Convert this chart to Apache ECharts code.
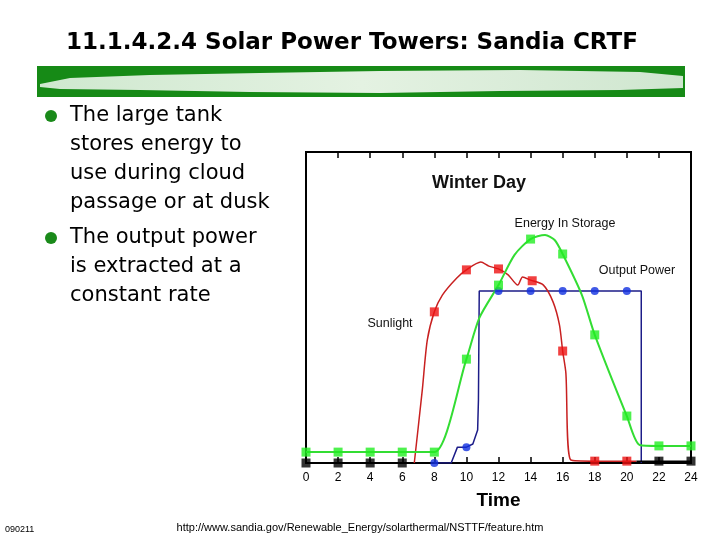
<!DOCTYPE html>
<html><head><meta charset="utf-8">
<script src="https://cdn.jsdelivr.net/npm/echarts@6/dist/echarts.min.js"></script>
<style>html,body{margin:0;padding:0;background:#fff}#c{width:720px;height:540px}</style>
</head><body><div id="c"></div>
<script>
// x = hour of day, y = relative level (0..100)
const hourTicks = [0,2,4,6,8,10,12,14,16,18,20,22,24];
const storageLine = [[0,3.5],[2,3.5],[4,3.5],[6,3.5],[8,3.5],[10,33.4],[10.8,46.6],[12,57.2],[13,66.9],[14,72.0],[14.9,73.3],[15.5,71.7],[16,67.2],[17.2,54.0],[18,41.2],[20,15.1],[20.8,5.8],[22,5.5],[24,5.5]];
const storageMarks = [[0,3.5],[2,3.5],[4,3.5],[6,3.5],[8,3.5],[10,33.4],[12,57.2],[14,72.0],[16,67.2],[18,41.2],[20,15.1],[22,5.5],[24,5.5]];
const sunLine = [[6.75,0],[7.25,23.5],[7.56,39.5],[8,48.6],[8.5,54.0],[9.4,59.5],[10,62.1],[10.9,64.6],[11.4,63.3],[12,62.4],[12.6,60.5],[13.2,57.2],[13.5,59.8],[14,58.8],[14.8,57.2],[15.4,51.8],[15.8,44.4],[16,36.0],[16.2,28.9],[16.5,1.0],[18,0.6],[20,0.6],[20.6,0.6]];
const sunMarks = [[8,48.6],[10,62.1],[12,62.4],[14.1,58.6],[16,36.0],[18,0.6],[20,0.6]];
const outputLine = [[8,0],[9.05,0],[9.44,5.1],[10,5.1],[10.4,6.1],[10.7,10.6],[10.75,20.3],[10.8,55.3],[12,55.3],[14,55.3],[16,55.3],[18,55.3],[20,55.3],[20.9,55.3],[20.9,0]];
const outputMarks = [[8,0],[10,5.1],[12,55.3],[14,55.3],[16,55.3],[18,55.3],[20,55.3]];
const nightLine = [[20.6,0.6],[22,0.6],[24,0.6]];
const nightMarks = [[0,0],[2,0],[4,0],[6,0],[22,0.6],[24,0.6]];
const bulletLines = [
  ["The large tank","stores energy to","use during cloud","passage or at dusk"],
  ["The output power","is extracted at a","constant rate"]
];

const chart = echarts.init(document.getElementById('c'), null, {renderer:'canvas'});
const F = 'Liberation Sans, Arial, sans-serif';
const D = 'DejaVu Sans, sans-serif';
const graphics = [];
graphics.push({type:'text', x:352, y:43, style:{text:'11.1.4.2.4 Solar Power Towers: Sandia CRTF', font:'bold 23px '+D, fill:'#000', textAlign:'center', textVerticalAlign:'middle'}});
graphics.push({type:'rect', shape:{x:37,y:66,width:648,height:31}, style:{fill:'#168a16'}});
graphics.push({type:'polygon', shape:{points:[[40,84],[70,78],[150,75],[260,73],[380,71],[520,70],[640,72],[683,76],[683,88],[620,90],[500,91],[380,93],[250,92],[140,90],[60,89],[40,87]]}, style:{fill:new echarts.graphic.LinearGradient(0,0,1,0,[{offset:0,color:'#cfe8cf'},{offset:0.5,color:'#e4f2e2'},{offset:1,color:'#cfe6cf'}])}});
let y0 = [116, 238];
bulletLines.forEach((lines,bi)=>{
  graphics.push({type:'circle', shape:{cx:51,cy:y0[bi],r:6}, style:{fill:'#1a8a1a'}});
  lines.forEach((t,i)=>{
    graphics.push({type:'text', x:70, y:y0[bi]+i*28.7, style:{text:t, font:'21px '+D, fill:'#000', textVerticalAlign:'middle'}});
  });
});
graphics.push({type:'text', x:5, y:530, style:{text:'090211', font:'9px '+F, fill:'#000', textVerticalAlign:'middle'}});
graphics.push({type:'text', x:360, y:528, style:{text:'http://www.sandia.gov/Renewable_Energy/solarthermal/NSTTF/feature.htm', font:'11px '+F, fill:'#000', textAlign:'center', textVerticalAlign:'middle'}});
graphics.push({type:'text', x:479, y:183, style:{text:'Winter Day', font:'bold 18px '+F, fill:'#111', textAlign:'center', textVerticalAlign:'middle'}});
graphics.push({type:'text', x:565, y:224, style:{text:'Energy In Storage', font:'12.5px '+F, fill:'#111', textAlign:'center', textVerticalAlign:'middle'}});
graphics.push({type:'text', x:637, y:271, style:{text:'Output Power', font:'12.5px '+F, fill:'#111', textAlign:'center', textVerticalAlign:'middle'}});
graphics.push({type:'text', x:390, y:324, style:{text:'Sunlight', font:'12.5px '+F, fill:'#111', textAlign:'center', textVerticalAlign:'middle'}});

const option = {
  animation:false,
  backgroundColor:'#fff',
  grid:{left:306,right:29,top:152,bottom:77,show:true,borderColor:'#000',borderWidth:2,backgroundColor:'#fff'},
  xAxis:[{
    type:'value', min:0, max:24, interval:2, position:'bottom',
    axisLine:{show:true,lineStyle:{color:'#000',width:2}},
    axisTick:{show:true,inside:true,length:6,lineStyle:{color:'#000',width:1.5}},
    axisLabel:{color:'#000',fontSize:12,fontFamily:F,margin:9,formatter:v=>hourTicks.includes(v)?String(v):''},
    splitLine:{show:false},
    name:'Time', nameLocation:'middle', nameGap:28,
    nameTextStyle:{fontSize:19,fontWeight:'bold',fontFamily:F,color:'#000'}
  },{
    type:'value', min:0, max:24, interval:2, position:'top',
    axisLine:{show:false}, axisLabel:{show:false},
    axisTick:{show:true,inside:true,length:6,lineStyle:{color:'#000',width:1.5}},
    splitLine:{show:false}
  }],
  yAxis:{type:'value',min:0,max:100,show:false,splitLine:{show:false}},
  graphic:graphics,
  series:[
    {type:'line',data:outputLine,showSymbol:false,symbol:'none',lineStyle:{color:'#1c1c88',width:1.5},z:2},
    {type:'line',data:sunLine,smooth:0.25,showSymbol:false,symbol:'none',lineStyle:{color:'#c82020',width:1.5},z:3},
    {type:'line',data:storageLine,smooth:0.25,showSymbol:false,symbol:'none',lineStyle:{color:'#33dd33',width:2},z:4},
    {type:'line',data:nightLine,showSymbol:false,symbol:'none',lineStyle:{color:'#000',width:1.5},z:3},
    {type:'scatter',data:outputMarks,symbol:'circle',symbolSize:8,itemStyle:{color:'#1030e0'},z:6},
    {type:'scatter',data:sunMarks,symbol:'rect',symbolSize:9,itemStyle:{color:'#ee1111'},z:6},
    {type:'scatter',data:storageMarks,symbol:'rect',symbolSize:9,itemStyle:{color:'#22ee22'},z:6},
    {type:'scatter',data:nightMarks,symbol:'rect',symbolSize:9,itemStyle:{color:'#000'},z:5}
  ]
};
chart.setOption(option);
</script></body></html>
